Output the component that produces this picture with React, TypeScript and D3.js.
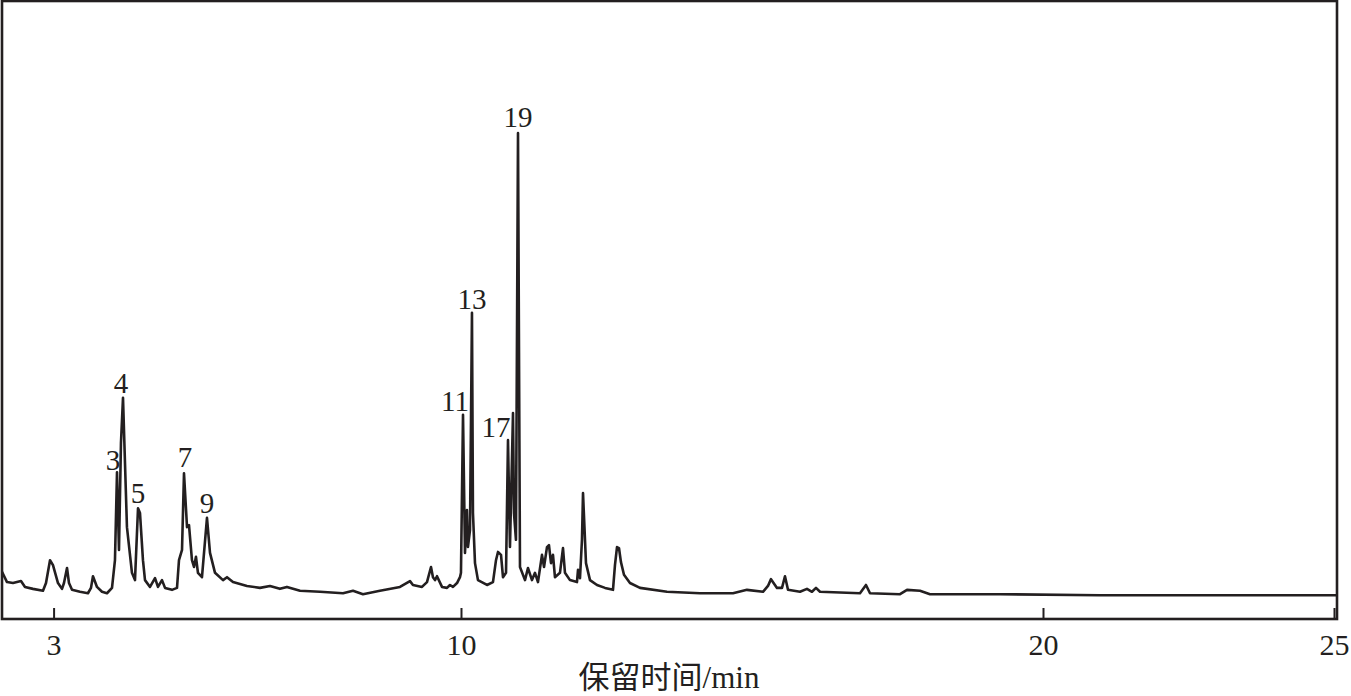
import React from "react";
import * as d3 from "d3";

// Retention time (min) and relative intensity (%, peak 19 = 100)
const retentionTime = [
  2.105, 2.191, 2.294, 2.431, 2.5, 2.637, 2.809, 2.861, 2.93, 2.981,
  3.067, 3.136, 3.17, 3.222, 3.256, 3.308, 3.445, 3.582, 3.634, 3.668,
  3.737, 3.823, 3.909, 3.995, 4.046, 4.081, 4.115, 4.149, 4.184, 4.252,
  4.338, 4.39, 4.442, 4.476, 4.527, 4.562, 4.648, 4.734, 4.785, 4.854,
  4.906, 5.026, 5.112, 5.146, 5.198, 5.232, 5.284, 5.318, 5.369, 5.404,
  5.438, 5.472, 5.541, 5.627, 5.679, 5.765, 5.902, 5.971,
  6.074, 6.314, 6.537, 6.709, 6.88, 7.001, 7.225, 7.569, 7.964, 8.136,
  8.307, 8.599, 8.943, 9.115, 9.166, 9.321, 9.407,
  9.476, 9.51, 9.545, 9.579, 9.665, 9.751, 9.802, 9.854, 9.923,
  9.974, 9.991, 10.026, 10.06, 10.094, 10.111, 10.146, 10.18, 10.197, 10.232,
  10.283, 10.438, 10.541, 10.593, 10.627, 10.679, 10.713, 10.765, 10.799, 10.833,
  10.885, 10.902, 10.936, 10.971, 11.005, 11.091, 11.142, 11.211, 11.263, 11.314,
  11.383, 11.418, 11.469, 11.503, 11.538, 11.572, 11.606, 11.692, 11.744, 11.778,
  11.864, 11.984, 12.002, 12.036, 12.07, 12.088, 12.122, 12.139, 12.208, 12.328,
  12.466, 12.603, 12.637, 12.672, 12.706, 12.74, 12.792, 12.895, 13.067, 13.531,
  14.098, 14.665, 14.905, 15.18, 15.266, 15.318, 15.421, 15.507, 15.558, 15.61,
  15.816, 15.936, 16.022, 16.091, 16.16, 16.847, 16.95, 17.019, 17.535, 17.655,
  17.878, 18.05, 19.253, 20.971, 22.689, 25.043,
];
const intensity = [
  9.7, 7.6, 7.4, 7.8, 6.6, 6.2, 5.8, 7.4, 12.1, 11.1,
  7.4, 6.2, 7.4, 10.5, 7.4, 6.0, 5.6, 5.3, 6.4, 8.8,
  6.6, 5.6, 5.3, 6.4, 12.1, 30.2, 14.2, 36.2, 45.5, 18.9,
  9.5, 8.0, 22.8, 21.8, 12.1, 8.0, 6.6, 8.4, 6.6, 8.0,
  6.4, 6.0, 6.4, 12.1, 14.2, 30.0, 18.9, 19.3, 12.1, 10.7,
  12.8, 9.5, 8.6, 20.8, 13.6, 9.5, 8.0, 8.6,
  7.6, 6.8, 6.4, 6.8, 6.2, 6.6, 5.8, 5.6, 5.3, 5.8,
  5.1, 5.8, 6.6, 7.8, 7.0, 6.6, 7.6,
  10.7, 8.6, 8.0, 8.8, 6.6, 6.4, 7.0, 6.6, 7.4,
  8.6, 9.5, 42.0, 13.6, 22.4, 14.8, 18.3, 63.0, 21.8, 11.5,
  8.0, 7.0, 7.6, 12.1, 13.8, 13.2, 8.6, 9.5, 36.8, 14.8,
  42.4, 21.8, 16.3, 100.0, 10.7, 8.0, 10.5, 8.0, 9.5, 7.6,
  13.2, 10.7, 14.8, 15.2, 11.5, 13.2, 8.6, 9.5, 14.6, 9.5,
  8.0, 7.6, 10.1, 8.4, 16.3, 25.9, 16.3, 11.5, 8.0, 7.0,
  6.4, 6.0, 11.1, 14.8, 14.6, 11.7, 9.1, 7.4, 6.4, 5.6,
  5.3, 5.3, 6.0, 5.6, 6.8, 8.2, 6.4, 6.4, 8.8, 6.0,
  5.6, 6.2, 5.6, 6.4, 5.6, 5.3, 7.0, 5.3, 5.1, 6.0,
  5.8, 5.1, 5.1, 4.9, 4.9, 4.9,
];

// Peak numbers and where their labels sit (time, label baseline level)
const peakLabels = ["3", "4", "5", "7", "9", "11", "13", "17", "19"];
const peakLabelTime = [4.012, 4.15, 4.442, 5.249, 5.627, 9.889, 10.18, 10.593, 10.971];
const peakLabelLevel = [30.6, 46.5, 23.9, 31.3, 21.8, 42.8, 63.8, 37.4, 101.2];

const xTicks = [3, 10, 20, 25];
const xTitle = "保留时间/min";

export default function App() {
  const W = 1351;
  const H = 696;
  const left = 2;
  const right = 1337;
  const top = 1;
  const bottom = 619;
  const ink = "#231f20";

  const x = d3.scaleLinear().domain([2.105, 25.043]).range([left, right]);
  const y = d3.scaleLinear().domain([0, 100]).range([bottom, 133]);

  const pts: [number, number][] = retentionTime.map((t, i) => [t, intensity[i]]);
  const line = d3
    .line<[number, number]>()
    .x((d) => x(d[0]))
    .y((d) => y(d[1]))
    .curve(d3.curveLinear);

  return (
    <>
      <style>{`body{margin:0;background:#fff}`}</style>
      <svg width={W} height={H} viewBox={`0 0 ${W} ${H}`} style={{ display: "block" }}>
        <defs>
          <clipPath id="plotClip">
            <rect x={left} y={top} width={right - left} height={bottom - top} />
          </clipPath>
        </defs>
        <rect x={0} y={0} width={W} height={H} fill="#fff" />
        <path
          d={line(pts) ?? ""}
          fill="none"
          stroke={ink}
          strokeWidth={2.6}
          strokeLinejoin="round"
          clipPath="url(#plotClip)"
        />
        <rect
          x={left}
          y={top}
          width={right - left}
          height={bottom - top}
          fill="none"
          stroke={ink}
          strokeWidth={2.6}
        />
        {xTicks.map((t) => (
          <g key={t}>
            <line x1={x(t)} x2={x(t)} y1={bottom} y2={bottom - 11} stroke={ink} strokeWidth={2} />
            <text
              x={x(t)}
              y={655}
              textAnchor="middle"
              fontFamily="'Liberation Serif', 'Times New Roman', serif"
              fontSize={30}
              fill={ink}
            >
              {t}
            </text>
          </g>
        ))}
        {peakLabels.map((lab, i) => (
          <text
            key={lab}
            x={x(peakLabelTime[i])}
            y={y(peakLabelLevel[i])}
            textAnchor="middle"
            fontFamily="'Liberation Serif', 'Times New Roman', serif"
            fontSize={29}
            fill={ink}
          >
            {lab}
          </text>
        ))}
        <text
          x={669}
          y={688}
          textAnchor="middle"
          fontFamily="'Liberation Serif', 'Noto Sans CJK SC', serif"
          fontSize={31}
          fill={ink}
        >
          {xTitle}
        </text>
      </svg>
    </>
  );
}
